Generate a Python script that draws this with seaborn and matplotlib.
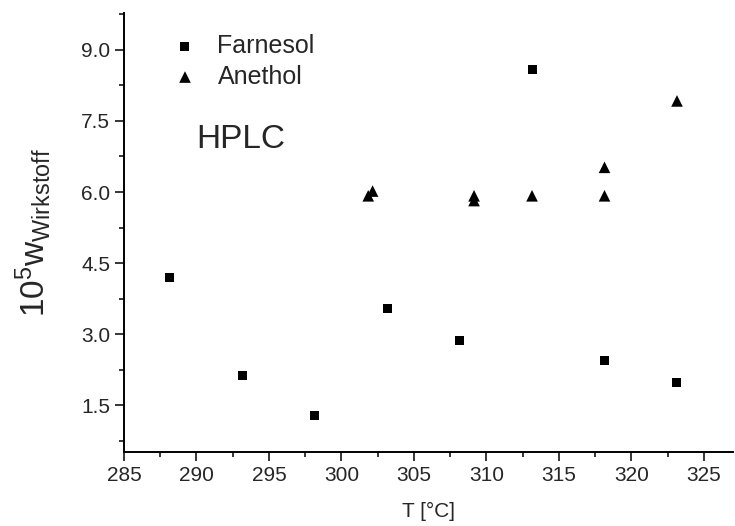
import matplotlib
matplotlib.use('Agg')
import matplotlib.pyplot as plt
from matplotlib.ticker import MultipleLocator, FormatStrFormatter
import pandas as pd
import seaborn as sns

# data
farnesol_T = [288.15, 293.15, 298.15, 303.15, 308.15, 313.15, 318.15, 323.15]
farnesol_w = [4.19, 2.13, 1.28, 3.55, 2.86, 8.58, 2.45, 1.98]
anethol_T = [301.85, 302.15, 309.15, 309.15, 313.15, 318.15, 318.15, 323.15]
anethol_w = [5.92, 6.02, 5.92, 5.82, 5.92, 6.52, 5.92, 7.92]

sns.set_style("ticks")
plt.rcParams['font.family'] = ['Liberation Sans', 'DejaVu Sans']
plt.rcParams['mathtext.default'] = 'regular'

df_f = pd.DataFrame({'T': farnesol_T, 'w': farnesol_w})
df_a = pd.DataFrame({'T': anethol_T, 'w': anethol_w})

fig, ax = plt.subplots(figsize=(7.35, 5.26), dpi=100)
fig.subplots_adjust(left=0.1687, right=0.997, bottom=0.1407, top=0.975)

sns.scatterplot(data=df_f, x='T', y='w', marker='s', color='black', s=42,
                edgecolor='none', label='Farnesol', ax=ax)
sns.scatterplot(data=df_a, x='T', y='w', marker='^', color='black', s=70,
                edgecolor='none', label='Anethol', ax=ax)

ax.set_xlim(285, 327)
ax.set_ylim(0.52, 9.77)
ax.xaxis.set_major_locator(MultipleLocator(5))
ax.xaxis.set_minor_locator(MultipleLocator(2.5))
ax.yaxis.set_major_locator(MultipleLocator(1.5))
ax.yaxis.set_minor_locator(MultipleLocator(0.75))
ax.yaxis.set_major_formatter(FormatStrFormatter('%.1f'))
ax.tick_params(which='major', direction='out', length=6.5, width=1.1, labelsize=15, color='black')
ax.tick_params(which='minor', direction='out', length=3.6, width=1.1, color='black')
for side in ['top', 'right']:
    ax.spines[side].set_visible(False)
for side in ['left', 'bottom']:
    ax.spines[side].set_linewidth(1.4)
    ax.spines[side].set_color('black')

ax.set_xlabel('T [°C]', fontsize=15, labelpad=12)
ax.set_ylabel(r'$10^5w_{Wirkstoff}$', fontsize=24, labelpad=20)

ax.text(290.0, 7.1, 'HPLC', fontsize=24, va='center', ha='left')

ax.legend(loc='upper left', bbox_to_anchor=(0.0386, 1.003), frameon=False,
          fontsize=18, handlelength=1.2, handletextpad=0.7, labelspacing=0.25)

plt.savefig('out.png', dpi=100)
plt.close()
